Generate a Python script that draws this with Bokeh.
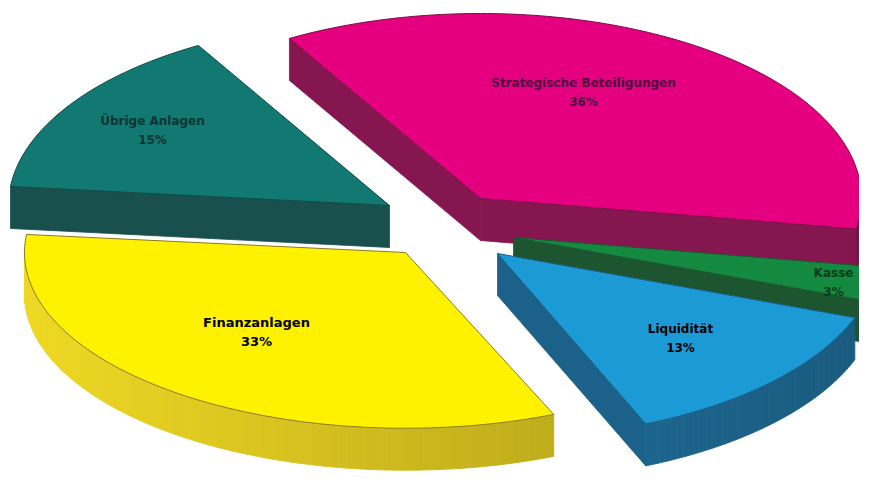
import numpy as np
from bokeh.plotting import figure
from bokeh.models import Range1d
from bokeh.embed import file_html
from bokeh.resources import INLINE
from bokeh.core.properties import value

# ---- data ----
categories = ["Strategische Beteiligungen", "Übrige Anlagen", "Finanzanlagen", "Liquidität", "Kasse"]
shares = [36, 15, 33, 13, 3]

# ---- layout / style ----
start_deg = -9.5
rx, ry, depth = 381.0, 185.0, 42.0
ry_scale = [1.0, 1.0, 0.95, 1.0, 1.0]
apex = [(480, 198), (389, 205), (405, 252), (497, 253), (513, 237)]
top_colors = ["#e4007f", "#127872", "#fff200", "#1c9ad6", "#138a3f"]
side_colors = ["#8b1752", "#1b5553", "#cdb91e", "#1f6d98", "#1f5c33"]
radial_colors = ["#86164f", "#194f4d", "#a08a20", "#1c6189", "#1d5530"]
edge_colors = ["#7a1046", "#0f4a46", "#8a7a20", "#1a5f88", "#1a5a30"]
label_colors = ["#4a1040", "#0b3535", "#000000", "#000000", "#0c3a1a"]
label_pos = [(583, 82), (152, 120), (256, 322), (680, 328), (833, 272)]
label_size = ["12px", "12px", "13px", "12px", "12px"]
draw_order = [0, 4, 3, 2, 1]

W, H = 859, 472
p = figure(width=W, height=H, output_backend="svg", toolbar_location=None,
           x_range=Range1d(0, W), y_range=Range1d(H, 0),
           min_border=0, outline_line_color=None)
p.axis.visible = False
p.grid.visible = False
p.background_fill_color = "white"


def shade(hexcol, f):
    h = hexcol.lstrip("#")
    r, g, b = (int(h[i:i + 2], 16) for i in (0, 2, 4))
    r, g, b = (max(0, min(255, int(c * f))) for c in (r, g, b))
    return "#%02x%02x%02x" % (r, g, b)


total = float(sum(shares))
bounds = [start_deg]
for s in shares:
    bounds.append(bounds[-1] + 360.0 * s / total)

for i in draw_order:
    cx, cy = apex[i]
    ryi = ry * ry_scale[i]
    a0, a1 = np.radians(bounds[i]), np.radians(bounds[i + 1])
    n = max(4, int(np.degrees(a1 - a0)))
    th = np.linspace(a0, a1, n + 1)
    ax = cx + rx * np.cos(th)
    ay = cy - ryi * np.sin(th)

    sx, sy, sc = [], [], []
    # radial faces
    if np.cos(a0) > 0:
        sx.append([cx, ax[0], ax[0], cx])
        sy.append([cy, ay[0], ay[0] + depth, cy + depth])
        sc.append(radial_colors[i])
    if np.cos(a1) < 0:
        sx.append([cx, ax[-1], ax[-1], cx])
        sy.append([cy, ay[-1], ay[-1] + depth, cy + depth])
        sc.append(radial_colors[i])
    # outer curved face (front half only)
    for k in range(n):
        tm = 0.5 * (th[k] + th[k + 1])
        if np.sin(tm) < 0:
            sx.append([ax[k], ax[k + 1], ax[k + 1], ax[k]])
            sy.append([ay[k], ay[k + 1], ay[k + 1] + depth, ay[k] + depth])
            sc.append(shade(side_colors[i], 1.0 - 0.17 * np.cos(tm)))
    if sx:
        p.patches(sx, sy, fill_color=sc, line_color=sc, line_width=0.8)

    # top face
    tx = [cx] + list(ax)
    ty = [cy] + list(ay)
    p.patch(tx, ty, fill_color=top_colors[i], line_color=edge_colors[i], line_width=1)

# labels
for i, name in enumerate(categories):
    x, y = label_pos[i]
    p.text([x], [y], text=[name], text_align="center", text_baseline="middle",
           text_font=value("DejaVu Sans"), text_font_style="bold",
           text_font_size=label_size[i], text_color=label_colors[i])
    p.text([x], [y + 19], text=[f"{shares[i]}%"], text_align="center", text_baseline="middle",
           text_font=value("DejaVu Sans"), text_font_style="bold",
           text_font_size=label_size[i], text_color=label_colors[i])

open("out.html", "w").write(file_html(p, INLINE))
